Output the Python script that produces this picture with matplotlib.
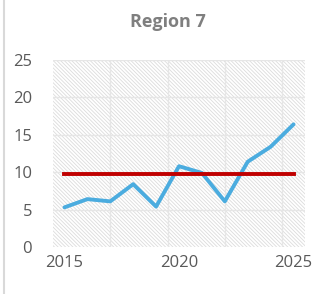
import numpy as np
import matplotlib.pyplot as plt
from matplotlib.patches import Rectangle
from matplotlib.lines import Line2D

#------
# Datos
#------
years = [2015, 2016, 2017, 2018, 2019, 2020, 2021, 2022, 2023, 2024, 2025]
values = [5.3, 6.4, 6.1, 8.4, 5.4, 10.8, 9.9, 6.1, 11.4, 13.4, 16.4]
target = [9.8] * len(years)
title = "Region 7"
xticks = [2015, 2020, 2025]
yticks = [0, 5, 10, 15, 20, 25]

plt.rcParams["font.family"] = ["Open Sans", "DejaVu Sans"]
plt.rcParams["hatch.linewidth"] = 0.6
plt.rcParams["hatch.color"] = "#dcdcdc"

fig = plt.figure(figsize=(3.27, 2.94), dpi=100)
ax = fig.add_axes([53 / 327, 1 - 247 / 294, 252 / 327, 187 / 294])

x0, x1 = years[0] - 0.5, years[-1] + 0.5
ax.set_xlim(x0, x1)
ax.set_ylim(0, 25)

# fondo rayado
ax.add_patch(Rectangle((x0, 0), x1 - x0, 25, facecolor="white",
                       edgecolor="#dcdcdc", hatch="\\" * 9, lw=0, zorder=0))

# rejilla
for y in yticks[1:]:
    ax.axhline(y, color="#e6e6e6", lw=1.0, zorder=1)
for gx in np.arange(x0 + 2.5, x1, 2.5):
    ax.axvline(gx, color="#e6e6e6", lw=1.0, zorder=1)

ax.plot(years, values, color="#4bacdf", lw=2.8, zorder=3, solid_capstyle="round")
ax.plot(years, target, color="#c00000", lw=2.8, zorder=4)

for s in ax.spines.values():
    s.set_visible(False)
ax.set_xticks(xticks)
ax.set_yticks(yticks)
ax.tick_params(length=0, labelsize=12, colors="#595959", pad=6)
ax.tick_params(axis="y", pad=15)

fig.text(168 / 327, 1 - 22 / 294, title, ha="center", va="center",
         fontsize=13, fontweight="bold", color="#7f7f7f")

# borde izquierdo del gráfico
fig.add_artist(Line2D([4 / 327, 4 / 327], [0, 1], color="#d9d9d9", lw=1.5))

fig.savefig("out.png", dpi=100)
